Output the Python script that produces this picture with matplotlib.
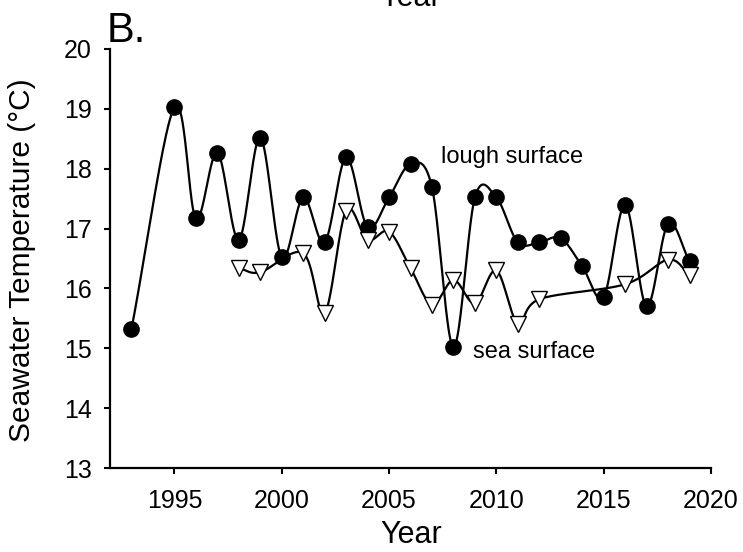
import numpy as np
import matplotlib
matplotlib.use("Agg")
import matplotlib.pyplot as plt

plt.rcParams['font.family'] = ['Liberation Sans', 'DejaVu Sans']

# Data
lough_years = [1993, 1995, 1996, 1997, 1998, 1999, 2000, 2001, 2002, 2003, 2004, 2005,
               2006, 2007, 2008, 2009, 2010, 2011, 2012, 2013, 2014, 2015, 2016, 2017,
               2018, 2019]
lough_temp = [15.32, 19.03, 17.17, 18.27, 16.81, 18.52, 16.52, 17.52, 16.77, 18.19, 17.02, 17.52,
              18.08, 17.69, 15.02, 17.52, 17.52, 16.77, 16.77, 16.84, 16.37, 15.86, 17.40, 15.70,
              17.08, 16.45]
sea_years = [1998, 1999, 2001, 2002, 2003, 2004, 2005, 2006, 2007, 2008, 2009, 2010,
             2011, 2012, 2016, 2018, 2019]
sea_temp = [16.34, 16.27, 16.59, 15.59, 17.30, 16.81, 16.95, 16.34, 15.73, 16.14, 15.75, 16.30,
            15.41, 15.82, 16.07, 16.48, 16.23]

x_ticks = [1995, 2000, 2005, 2010, 2015, 2020]
y_ticks = [13, 14, 15, 16, 17, 18, 19, 20]

fig = plt.figure(figsize=(7.43, 5.52), dpi=100)
ax = fig.add_axes([110/743, 1-468/552, (711-110)/743, (468-49)/552])
ax.set_xlim(1992, 2020)
ax.set_ylim(13, 20)


def catmull_rom(xs, ys, n=40):
    """Uniform parametric Catmull-Rom spline computed in display space."""
    pts = ax.transData.transform(np.column_stack([xs, ys]))
    P = np.vstack([2*pts[0]-pts[1], pts, 2*pts[-1]-pts[-2]])
    out = []
    t = np.linspace(0, 1, n)[:, None]
    h00 = 2*t**3 - 3*t**2 + 1
    h10 = t**3 - 2*t**2 + t
    h01 = -2*t**3 + 3*t**2
    h11 = t**3 - t**2
    for i in range(1, len(P)-2):
        p1, p2 = P[i], P[i+1]
        m1 = (P[i+1] - P[i-1]) / 2
        m2 = (P[i+2] - P[i]) / 2
        out.append(h00*p1 + h10*m1 + h01*p2 + h11*m2)
    C = np.vstack(out)
    d = ax.transData.inverted().transform(C)
    return d[:, 0], d[:, 1]


lx, ly = catmull_rom(lough_years, lough_temp)
sx, sy = catmull_rom(sea_years, sea_temp)

ax.plot(lx, ly, color='black', lw=1.6, zorder=2)
ax.plot(sx, sy, color='black', lw=1.6, zorder=2)
ax.plot(lough_years, lough_temp, 'o', color='black', ms=11, zorder=3, linestyle='none')
ax.plot(sea_years, sea_temp, 'v', markerfacecolor='white', markeredgecolor='black',
        mew=1.0, ms=12, zorder=4, linestyle='none')

ax.text(2007.42, 18.2, 'lough surface', fontsize=17, va='center', ha='left')
ax.text(2008.9, 14.94, 'sea surface', fontsize=17, va='center', ha='left')

ax.set_xticks(x_ticks)
ax.set_yticks(y_ticks)
ax.tick_params(direction='out', length=4, width=1.5, labelsize=18)
ax.tick_params(axis='x', pad=11)
ax.tick_params(axis='y', pad=9)
for s in ['top', 'right']:
    ax.spines[s].set_visible(False)
for s in ['left', 'bottom']:
    ax.spines[s].set_linewidth(1.6)

fig.text(22/743, 1-260/552, 'Seawater Temperature (°C)', fontsize=21.5, rotation=90,
         ha='center', va='center')
fig.text(411/743, 1-535/552, 'Year', fontsize=22, ha='center', va='center')
fig.text(107/743, 1-42/552, 'B.', fontsize=30, ha='left', va='baseline')
fig.text(410/743, 1-6/552, 'Year', fontsize=22, ha='center', va='baseline')

fig.savefig('out.png', dpi=100)
